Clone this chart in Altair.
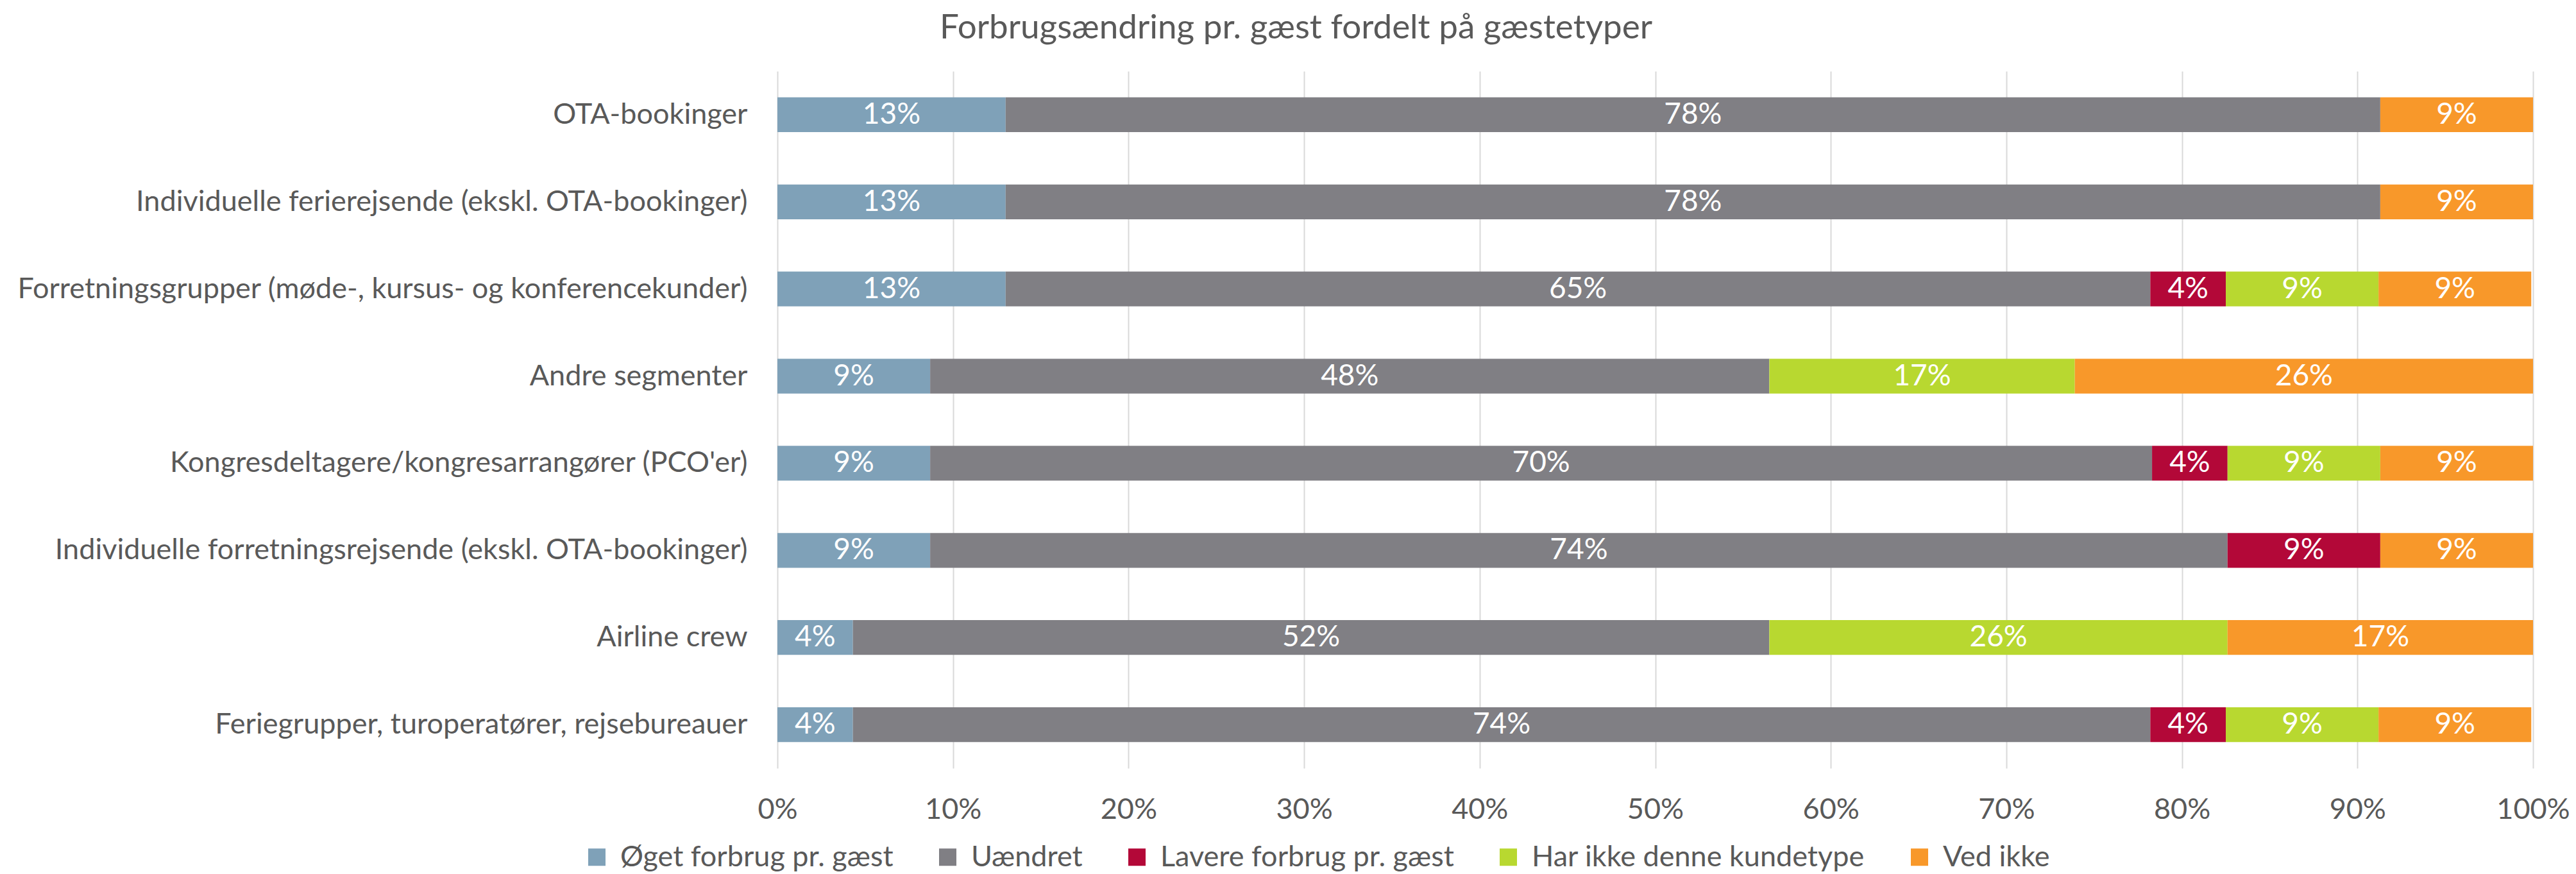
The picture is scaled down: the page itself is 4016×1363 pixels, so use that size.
import altair as alt
import pandas as pd

categories = [
    "OTA-bookinger",
    "Individuelle ferierejsende (ekskl. OTA-bookinger)",
    "Forretningsgrupper (møde-, kursus- og konferencekunder)",
    "Andre segmenter",
    "Kongresdeltagere/kongresarrangører (PCO'er)",
    "Individuelle forretningsrejsende (ekskl. OTA-bookinger)",
    "Airline crew",
    "Feriegrupper, turoperatører, rejsebureauer",
]

series_names = [
    "Øget forbrug pr. gæst",
    "Uændret",
    "Lavere forbrug pr. gæst",
    "Har ikke denne kundetype",
    "Ved ikke",
]

oeget = [13.0, 13.0, 13.0, 8.7, 8.7, 8.7, 4.3, 4.3]
uaendret = [78.3, 78.3, 65.2, 47.8, 69.6, 73.9, 52.2, 73.9]
lavere = [0, 0, 4.3, 0, 4.3, 8.7, 0, 4.3]
har_ikke = [0, 0, 8.7, 17.4, 8.7, 0, 26.1, 8.7]
ved_ikke = [8.7, 8.7, 8.7, 26.1, 8.7, 8.7, 17.4, 8.7]

colors = ["#7FA1B8", "#807F84", "#B30838", "#B8D830", "#F8982A"]

tick_values = [0, 10, 20, 30, 40, 50, 60, 70, 80, 90, 100]

series_values = [oeget, uaendret, lavere, har_ikke, ved_ikke]

rows = []
for ci, cat in enumerate(categories):
    start = 0.0
    for si, name in enumerate(series_names):
        v = series_values[si][ci]
        if v > 0:
            rows.append({
                "category": cat,
                "series": name,
                "order": si,
                "value": v,
                "start": start,
                "end": start + v,
                "mid": start + v / 2,
                "label": f"{round(v):.0f}%",
            })
        start += v
df = pd.DataFrame(rows)

FONT = "Lato"
TXT = "#595959"

y_enc = alt.Y(
    "category:N",
    sort=categories,
    title=None,
    scale=alt.Scale(paddingInner=0.6, paddingOuter=0.3),
    axis=alt.Axis(
        ticks=False, domain=False, grid=False,
        labelFontSize=45, labelFont=FONT, labelColor=TXT,
        labelPadding=47, labelLimit=3000,
    ),
)

bars = alt.Chart(df).mark_bar().encode(
    y=y_enc,
    x=alt.X(
        "start:Q",
        title=None,
        scale=alt.Scale(domain=[0, 100], nice=False),
        axis=alt.Axis(
            values=tick_values,
            labelExpr="datum.value + '%'",
            ticks=False, domain=False,
            grid=True, gridColor="#D9D9D9", gridWidth=2,
            labelFontSize=45, labelFont=FONT, labelColor=TXT,
            labelPadding=42, labelFlush=False,
        ),
    ),
    x2="end:Q",
    color=alt.Color(
        "series:N",
        sort=series_names,
        scale=alt.Scale(domain=series_names, range=colors),
        legend=alt.Legend(
            title=None,
            orient="none",
            direction="horizontal",
            legendX=-304,
            legendY=1203,
            symbolType="square",
            symbolSize=729,
            symbolStrokeWidth=0,
            labelFontSize=45,
            labelFont=FONT,
            labelColor=TXT,
            labelOffset=14,
            labelLimit=2000,
            columnPadding=62,
            padding=0,
        ),
    ),
    order=alt.Order("order:Q"),
)

texts = alt.Chart(df).mark_text(
    color="white", fontSize=46, font=FONT, align="center", baseline="middle"
).encode(
    y=alt.Y("category:N", sort=categories),
    x=alt.X("mid:Q"),
    text="label:N",
)

chart = alt.layer(bars, texts).properties(
    width=2737,
    height=1087,
    title=alt.TitleParams(
        "Forbrugsændring pr. gæst fordelt på gæstetyper",
        fontSize=53, font=FONT, color=TXT, fontWeight="normal",
        anchor="middle", dx=-560, offset=40,
    ),
    autosize=alt.AutoSizeParams(type="none"),
    padding={"left": 1204, "top": 103, "right": 58, "bottom": 162},
).configure_view(stroke=None)

chart.save("out.html", embed_options={"renderer": "svg", "actions": False})
